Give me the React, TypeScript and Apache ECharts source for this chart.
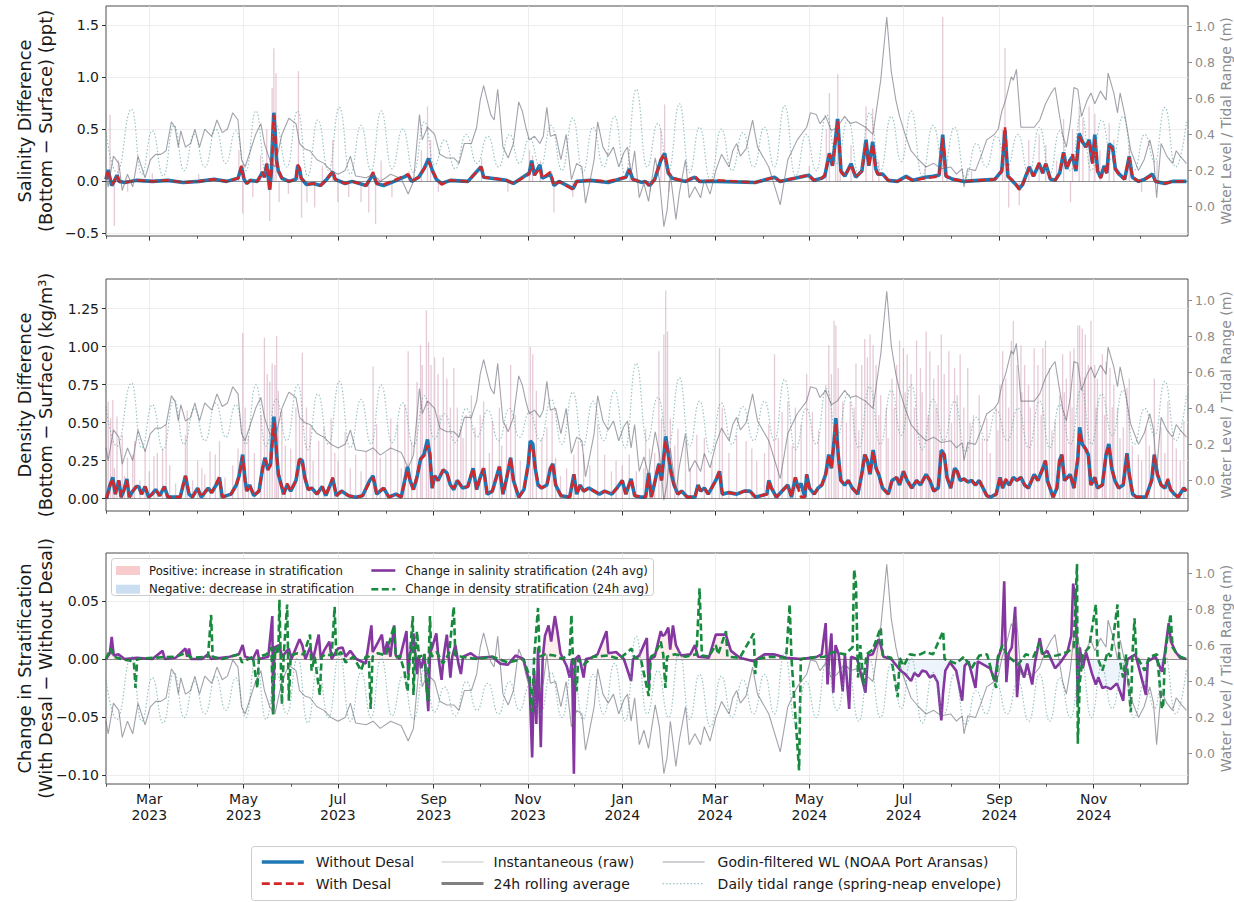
import React, { useEffect, useRef } from 'react';
import * as echarts from 'echarts';

// ---------- time reference (day offsets from 2023-02-01) ----------
const DAY = 86400000;
const T0 = Date.UTC(2023, 1, 1);
const T1 = Date.UTC(2025, 0, 1);
const MONTHS = ['Jan', 'Feb', 'Mar', 'Apr', 'May', 'Jun', 'Jul', 'Aug', 'Sep', 'Oct', 'Nov', 'Dec'];

// ---------- tick labels ----------
const P1_TICKS = [-0.5, 0, 0.5, 1.0, 1.5];
const P2_TICKS = [0, 0.25, 0.5, 0.75, 1.0, 1.25];
const P3_TICKS = [-0.1, -0.05, 0, 0.05];
const R_TICKS = [0, 0.2, 0.4, 0.6, 0.8, 1.0];

// ---------- data: [day offset, value] ----------
const TIDAL_RANGE = [[0,0.41],[7,0.19],[16.6,0.54],[23,0.18],[30,0.42],[37,0.17],[44,0.45],[50.5,0.20],[57,0.40],[64,0.22],[71,0.43],[77.5,0.24],[84,0.42],[90.5,0.20],[97,0.53],[103.5,0.19],[110,0.45],[117,0.22],[124,0.53],[130.5,0.17],[137,0.48],[144,0.20],[151,0.55],[158,0.18],[165,0.45],[171.5,0.20],[178,0.53],[185,0.21],[192,0.43],[199,0.19],[206,0.47],[212.5,0.23],[219,0.37],[226,0.21],[233,0.40],[240,0.24],[247,0.39],[254,0.22],[261,0.40],[267.5,0.24],[274,0.38],[281,0.22],[288,0.45],[295,0.20],[302,0.49],[308.5,0.19],[315,0.44],[322,0.22],[329,0.50],[336,0.18],[343,0.65],[350,0.22],[357,0.46],[364,0.20],[371,0.57],[377.5,0.19],[384,0.44],[391,0.15],[398,0.43],[405,0.20],[412,0.41],[419,0.22],[426,0.44],[432.5,0.22],[439,0.56],[446,0.17],[453,0.40],[459.5,0.20],[466,0.51],[473,0.24],[480,0.48],[487,0.18],[494,0.52],[501,0.20],[508,0.50],[514.5,0.25],[521,0.53],[528,0.17],[535,0.45],[542,0.22],[549,0.44],[556,0.16],[563,0.35],[569.5,0.22],[576,0.39],[583,0.22],[590,0.40],[597,0.18],[604,0.44],[610.5,0.18],[617,0.42],[624,0.20],[631,0.51],[637.5,0.20],[644,0.48],[651,0.25],[658,0.50],[665,0.20],[672,0.40],[678.5,0.25],[685,0.55],[692,0.22],[699,0.47]];

const GODIN_WL = [[0,0.18],[1.4,0.11],[4.8,0.28],[8.3,0.24],[10.5,0.09],[13.9,0.18],[17.3,0.11],[20.7,0.28],[23,0.22],[25.3,0.16],[28.7,0.26],[32.1,0.29],[35.5,0.29],[38.9,0.31],[42.3,0.47],[44.6,0.44],[46.8,0.33],[48.4,0.42],[51.4,0.33],[54.8,0.35],[57.5,0.43],[60.5,0.33],[63.9,0.43],[68.4,0.39],[71.8,0.48],[75.2,0.41],[78.6,0.43],[82,0.52],[85.4,0.48],[87.7,0.26],[90,0.22],[93.4,0.31],[96.8,0.40],[100.2,0.46],[102.5,0.35],[105.9,0.26],[109.3,0.22],[113.8,0.40],[118.3,0.49],[122.9,0.46],[125.2,0.35],[128.6,0.32],[132,0.31],[136.5,0.26],[141,0.24],[145.6,0.20],[150.1,0.18],[154.7,0.20],[158.1,0.28],[161.5,0.17],[168.3,0.16],[172.8,0.18],[177.4,0.14],[184.2,0.18],[191,0.155],[195.5,0.07],[198.9,0.14],[202.8,0.51],[204.6,0.37],[208,0.44],[212.6,0.40],[216,0.29],[220.5,0.27],[225,0.27],[228.4,0.24],[231.8,0.35],[236.4,0.35],[239.8,0.44],[242.1,0.59],[244.3,0.67],[246.6,0.59],[248.9,0.51],[251.1,0.48],[253.4,0.65],[256.8,0.33],[260.2,0.27],[263.6,0.35],[267,0.58],[269.3,0.53],[271.6,0.44],[273.8,0.37],[277.2,0.39],[280.7,0.35],[282.9,0.39],[285.2,0.55],[287.5,0.39],[290.9,0.40],[294.3,0.26],[297.7,0.40],[301.1,0.15],[304.5,0.24],[307.9,0.22],[310.2,0.02],[312.4,0.11],[315.8,0.26],[318.1,0.47],[321.5,0.33],[324.9,0.28],[328.3,0.33],[331.7,0.22],[335.1,0.30],[337.4,0.33],[339.7,0.18],[342,0.31],[345,0.05],[348,0.13],[351,0.03],[355.3,0.27],[358,0.15],[360.9,-0.11],[363,-0.02],[365.1,0.18],[367,0.05],[368.7,-0.07],[371,0.08],[374.9,0.26],[377.3,0.05],[381,0.11],[384.7,0.05],[387.1,0.15],[390.8,0.07],[394.5,0.20],[398.2,0.29],[403.1,0.22],[405.5,0.31],[408,0.35],[410.4,0.28],[414.1,0.32],[418.3,0.48],[421.5,0.33],[428.8,0.22],[436.2,0.01],[441.1,0.26],[447.2,0.37],[453.3,0.44],[455.8,0.52],[459.5,0.51],[461.9,0.46],[465.6,0.50],[469.3,0.42],[473,0.44],[477.9,0.50],[481.5,0.46],[485.2,0.47],[491.3,0.44],[496.2,0.40],[501.2,0.70],[505.1,1.05],[508,0.75],[511,0.59],[513.4,0.50],[517,0.40],[520.8,0.31],[525.7,0.26],[530.6,0.22],[535.5,0.24],[540.4,0.21],[546.5,0.22],[550.2,0.18],[553.9,0.21],[555.1,0.11],[557.5,0.21],[562.5,0.20],[566.1,0.28],[569.8,0.37],[574.7,0.40],[577.2,0.43],[579.6,0.53],[582,0.59],[585.7,0.72],[587,0.70],[589,0.76],[591.9,0.44],[596.8,0.44],[600.5,0.44],[604.1,0.48],[607.8,0.57],[611.5,0.63],[614,0.66],[616.4,0.53],[618.9,0.40],[621.3,0.33],[623.8,0.46],[626.2,0.66],[628.7,0.65],[631.1,0.50],[634.8,0.59],[637.2,0.63],[639.7,0.57],[643.4,0.64],[647,0.59],[648.3,0.74],[652,0.63],[654.4,0.52],[656.1,0.63],[659.3,0.50],[663,0.31],[668,0.20],[671.6,0.26],[675.3,0.37],[677.7,0.28],[679.7,0.05],[682.6,0.35],[686.3,0.28],[690,0.24],[692.4,0.31],[694.9,0.28],[699,0.24]];

const SAL_WITHOUT = [[0,0.02],[1.4,0.11],[2.6,0.03],[3.7,-0.04],[5.3,0],[7.1,0.06],[8.5,0],[12,-0.01],[20,0.01],[30,0],[40,0.01],[50,-0.01],[60,0],[70,0.02],[78,0],[85.4,0.03],[87.7,0.14],[89.3,0.02],[91.1,-0.02],[93.4,0.01],[97.9,0],[101.3,0.09],[102.5,0.04],[104,0.17],[105.2,0.03],[105.9,-0.08],[107,0.1],[107.9,0.45],[108.6,0.66],[109.5,0.45],[110.4,0.2],[111.5,0.1],[113.8,0.03],[118.3,0],[122.9,0.02],[124,0.15],[125.2,0.12],[126.3,0.03],[129.7,-0.03],[134.2,-0.02],[138.8,-0.04],[142.2,0.01],[146.7,0.09],[148.3,0.02],[154.7,-0.02],[159.2,0],[168.3,-0.04],[172.8,0.07],[175.1,-0.02],[179.6,-0.04],[186.4,0],[195.5,0.06],[197.8,0],[202.3,0.04],[205.7,0.12],[208.7,0.22],[211,0.11],[213.7,0.02],[217.1,-0.02],[222.8,0.01],[234.1,0],[242.7,0.14],[244.3,0.04],[254.5,0.02],[259.1,0.01],[263.6,-0.02],[273.8,0.08],[275.4,0.2],[277.2,0.06],[280.7,0.16],[282.2,0.03],[287.5,0.07],[289.8,-0.04],[293.1,0],[302.2,-0.07],[304.5,0],[313.6,0.01],[324.9,-0.01],[336.3,0.04],[338.5,0.12],[340.8,0.02],[346.5,-0.01],[349,0],[351.6,-0.04],[355,0.02],[358.9,0.2],[361.4,0.27],[363.8,0.08],[366.3,0.03],[375,0],[381,0.04],[384,0],[395,0],[420,-0.01],[432.5,0.04],[436,0],[454.6,0.06],[458,0.01],[463,0.03],[465,0.05],[468,0.27],[470,0.15],[473.4,0.6],[475.5,0.1],[478,0.05],[482,0.17],[485,0.04],[489,0.1],[491.7,0.40],[493.5,0.15],[496,0.38],[498,0.12],[499.3,0.07],[502.5,0.07],[506,0.01],[512,0],[517.6,0.05],[522,0.01],[530,0.04],[535,0.05],[539,0.06],[541.3,0.45],[543.4,0.05],[548,0.02],[555,0],[565,0.01],[575,0.02],[579.5,0.1],[581.6,0.49],[583.5,0.05],[588,-0.02],[590.8,-0.07],[593,-0.03],[597.3,0.14],[600,0.05],[603.7,0.17],[606,0.08],[608,0.17],[611,0.02],[614,0.01],[617,0.08],[619.5,0.28],[621.5,0.12],[623.5,0.2],[625.3,0.24],[627.5,0.1],[629.6,0.46],[631.8,0.38],[633.9,0.33],[636.1,0.40],[638.2,0.18],[639.7,0.45],[641.5,0.1],[643.5,0.04],[645.8,0.15],[647.5,0.08],[649,0.36],[651.2,0.33],[653,0.12],[655.5,0.07],[659,0.02],[662,0.24],[664,0.04],[668,0],[672,0.02],[677,0.07],[679,0],[685,-0.02],[690,0],[699,0]];

const SAL_WITH = [[0,0.02],[1.4,0.11],[2.6,0.03],[3.7,-0.03],[5.3,0],[7.1,0.06],[8.5,0],[12,-0.01],[20,0.01],[30,0],[40,0.01],[50,-0.01],[60,0],[70,0.02],[78,0],[85.4,0.03],[87.7,0.15],[89.3,0.02],[91.1,-0.02],[93.4,0.01],[97.9,0],[101.3,0.09],[102.5,0.04],[104,0.17],[105.2,0.03],[105.9,-0.09],[107,0.1],[107.9,0.47],[108.6,0.64],[109.5,0.45],[110.4,0.2],[111.5,0.11],[113.8,0.03],[118.3,0],[122.9,0.02],[124,0.16],[125.2,0.13],[126.3,0.03],[129.7,-0.03],[134.2,-0.02],[138.8,-0.04],[142.2,0.01],[146.7,0.1],[148.3,0.02],[154.7,-0.02],[159.2,0],[168.3,-0.04],[172.8,0.09],[175.1,-0.02],[179.6,-0.03],[186.4,0.01],[195.5,0.07],[197.8,0],[202.3,0.04],[205.7,0.12],[208.7,0.19],[211,0.11],[213.7,0.03],[217.1,-0.03],[222.8,0.01],[234.1,0],[242.7,0.14],[244.3,0.04],[254.5,0.02],[259.1,0.01],[263.6,-0.02],[273.8,0.07],[275.4,0.17],[277.2,0.06],[280.7,0.13],[282.2,0.03],[287.5,0.09],[289.8,-0.04],[293.1,0],[302.2,-0.08],[304.5,0],[313.6,0.01],[324.9,0],[336.3,0.04],[338.5,0.11],[340.8,0.02],[346.5,-0.01],[349,0],[351.6,-0.05],[355,0.02],[358.9,0.21],[361.4,0.26],[363.8,0.09],[366.3,0.03],[375,0],[381,0.05],[384,0],[395,0.01],[420,-0.01],[432.5,0.04],[436,0],[454.6,0.06],[458,0.01],[463,0.03],[465,0.06],[468,0.26],[470,0.15],[473.4,0.58],[475.5,0.09],[478,0.05],[482,0.16],[485,0.04],[489,0.1],[491.7,0.37],[493.5,0.15],[496,0.36],[498,0.12],[499.3,0.07],[502.5,0.07],[506,0.01],[512,0],[517.6,0.04],[522,0.01],[530,0.03],[535,0.04],[539,0.05],[541.3,0.42],[543.4,0.05],[548,0.02],[555,0],[565,0.01],[575,0.02],[579.5,0.1],[581.6,0.52],[583.5,0.05],[588,-0.01],[590.8,-0.08],[593,-0.03],[597.3,0.13],[600,0.05],[603.7,0.18],[606,0.08],[608,0.17],[611,0.02],[614,0.01],[617,0.08],[619.5,0.27],[621.5,0.12],[623.5,0.2],[625.3,0.26],[627.5,0.12],[629.6,0.43],[631.8,0.37],[633.9,0.33],[636.1,0.39],[638.2,0.17],[639.7,0.42],[641.5,0.09],[643.5,0.03],[645.8,0.13],[647.5,0.07],[649,0.34],[651.2,0.31],[653,0.12],[655.5,0.06],[659,0.02],[662,0.23],[664,0.04],[668,0],[672,0.02],[677,0.06],[679,0],[685,-0.02],[690,0],[699,0]];

const SAL_RAW = [[2.6,0.64],[5.4,-0.43],[8,0.2],[14,-0.1],[30,0.08],[60,0.07],[86,0.3],[88.4,-0.31],[95,-0.15],[100,0.25],[104,0.5],[105.9,-0.38],[107.5,0.9],[108.6,1.28],[110,1.04],[112,-0.2],[118,-0.12],[124.5,1.06],[126.5,-0.35],[130,-0.2],[135,-0.25],[140,0.15],[146.7,0.4],[150,-0.2],[157,-0.15],[165,-0.2],[170,-0.3],[174.4,-0.41],[178,0.2],[185,-0.15],[196,0.1],[204,0.3],[208,0.72],[210,0.4],[215,-0.1],[243,0.22],[260,-0.1],[274,0.3],[276,0.25],[281,0.2],[289.8,-0.3],[302,-0.15],[339,0.18],[352,-0.1],[359,0.5],[361.4,0.74],[364,-0.1],[455,0.15],[466,0.5],[468,0.85],[472,0.6],[473.4,1.03],[475,0.3],[482,0.35],[491.7,0.72],[496,0.7],[500,0.2],[530,0.15],[541.3,1.58],[544,0.2],[560,0.1],[580,0.5],[581.6,1.28],[584,-0.25],[590.8,-0.23],[597,0.4],[603.7,0.45],[608,0.35],[615,0.2],[619.5,0.6],[624,-0.2],[625.3,0.5],[629.6,0.72],[632,0.6],[636,0.72],[639.7,0.65],[643,0.3],[649,0.56],[652,0.4],[662,0.35],[670,-0.1],[680,0.2]];

const DENS_WITHOUT = [[0.3,0],[2.6,0.09],[4.4,0.14],[6,0.03],[8.3,0.12],[9.8,0.01],[11.7,0.06],[13.5,0.13],[15.1,0.01],[17.3,0.05],[19.6,0.08],[21.2,0.08],[23,0.03],[25.3,0.08],[27.5,0.01],[29.8,0.03],[32.1,0.06],[34.8,0.02],[37.8,0.08],[40,0.01],[43.4,0.01],[48,0.01],[51.4,0.15],[53.7,0.03],[55.9,0.01],[59.3,0.07],[61.6,0.01],[66.1,0.07],[68.4,0.04],[71.8,0.10],[73.4,0.14],[75.2,0.01],[80.9,0.03],[84.3,0.09],[86.1,0.15],[88.4,0.29],[90,0.12],[91.1,0.05],[92.9,0.09],[95.6,0.02],[99,0.05],[101.3,0.20],[102.9,0.27],[104.7,0.19],[106.5,0.23],[107.5,0.38],[108.6,0.54],[109.3,0.47],[110.4,0.29],[111.5,0.16],[113.4,0.09],[114.9,0.03],[117.2,0.09],[119.5,0.05],[122.9,0.12],[125.2,0.26],[127,0.25],[128.6,0.14],[130.8,0.06],[133.1,0.07],[136.5,0.03],[139.9,0.08],[142.2,0.02],[146.7,0.13],[149,0.02],[152.4,0.05],[156.9,0.02],[161.5,0.01],[166,0.02],[170.6,0.12],[172.8,0.15],[175.1,0.03],[179.6,0.07],[183,0.01],[187.6,0.03],[191,0.01],[195.1,0.21],[196.7,0.12],[198.9,0.06],[201.2,0.14],[203.5,0.26],[205.7,0.29],[208,0.39],[209.6,0.28],[211,0.07],[212.6,0.15],[214.8,0.12],[218.2,0.19],[220.5,0.17],[222.8,0.09],[225,0.06],[227.3,0.12],[230.7,0.07],[234.1,0.08],[237.5,0.20],[239.8,0.06],[242.1,0.14],[244.3,0.20],[246.6,0.03],[250,0.05],[254.5,0.21],[256.8,0.03],[259.1,0.13],[261.8,0.27],[263.6,0.12],[267,0.01],[270.4,0.06],[273.2,0.23],[274.5,0.38],[276.1,0.36],[277.7,0.20],[279.5,0.09],[281.8,0.07],[285.2,0.09],[287.5,0.20],[289.1,0.23],[290.9,0.09],[294.3,0.02],[300,0.01],[302.7,0.16],[304.5,0.03],[306.8,0.09],[309,0.05],[312.4,0.07],[315.8,0.05],[319.2,0.03],[322.6,0.05],[327.2,0.03],[330.6,0.07],[334,0.12],[336.3,0.03],[339.7,0.13],[342,0.02],[346.5,0.01],[349.1,0.01],[351.1,0.17],[352.8,0.01],[355.3,0.12],[357.7,0.23],[359.4,0.12],[360.9,0.28],[362.1,0.41],[363.8,0.29],[365.8,0.16],[367.5,0.09],[370,0.03],[372.4,0.05],[376.1,0.01],[381,0.01],[383,0.09],[384.7,0.05],[387.1,0.07],[389.6,0.03],[394.5,0.12],[396.9,0.18],[398.7,0.03],[403.1,0.04],[408,0.03],[412.9,0.05],[416.6,0.05],[420.2,0.01],[427.6,0.03],[428.8,0.12],[430.5,0.07],[433.7,0.01],[437.4,0.05],[441.1,0.09],[443.5,0.01],[446,0.14],[447.7,0.07],[449.7,0.10],[452.1,0.01],[453.3,0.16],[455.1,0.07],[458.2,0.03],[460.7,0.07],[463.1,0.09],[465.6,0.16],[467.6,0.29],[469.3,0.20],[471,0.38],[472.2,0.53],[473.7,0.29],[475.4,0.12],[477.9,0.09],[480.3,0.12],[482.8,0.07],[486.4,0.03],[488.9,0.16],[490.9,0.29],[492.6,0.25],[494.3,0.16],[496.3,0.32],[498.2,0.20],[499.9,0.16],[502.4,0.07],[506.1,0.03],[508.5,0.12],[511.5,0.14],[513.4,0.09],[515.9,0.18],[518.3,0.12],[521.3,0.07],[524.4,0.12],[526.9,0.09],[530.6,0.16],[533,0.12],[535.5,0.05],[538.4,0.07],[540.4,0.32],[542.3,0.29],[544.1,0.14],[546.5,0.07],[549,0.20],[550.7,0.18],[552.6,0.12],[555.1,0.13],[557.5,0.11],[560,0.12],[562.5,0.09],[564.9,0.12],[567.4,0.07],[569.8,0.02],[572.3,0.01],[575.9,0.03],[578.4,0.14],[580.1,0.07],[582.1,0.12],[584.5,0.09],[587,0.14],[589.4,0.12],[591.9,0.14],[594.3,0.09],[596.8,0.07],[600.5,0.16],[602.9,0.12],[606.1,0.20],[607.8,0.25],[609,0.12],[612.7,0.01],[615.2,0.07],[616.9,0.25],[618.4,0.29],[620.1,0.12],[623.8,0.16],[626.2,0.07],[628.7,0.26],[629.9,0.47],[631.6,0.36],[633.6,0.33],[635.5,0.29],[637.2,0.09],[639.7,0.14],[641.4,0.07],[644.6,0.09],[647,0.29],[648.8,0.36],[650.7,0.20],[652.7,0.12],[655.1,0.07],[658.1,0.09],[660.5,0.30],[662,0.16],[664.2,0.03],[666.7,0.01],[672.8,0.01],[676.5,0.12],[678.2,0.29],[680.2,0.16],[682.6,0.09],[685.1,0.07],[687,0.12],[688.7,0.06],[691.2,0.03],[693.6,0.01],[697.3,0.07],[699,0.05]];

const DENS_WITH = [[0.3,0],[2.6,0.09],[4.4,0.13],[6,0.03],[8.3,0.12],[9.8,0.01],[11.7,0.06],[13.5,0.12],[15.1,0.01],[17.3,0.05],[19.6,0.08],[21.2,0.08],[23,0.03],[25.3,0.08],[27.5,0.01],[29.8,0.03],[32.1,0.06],[34.8,0.02],[37.8,0.08],[40,0.01],[43.4,0.01],[48,0.01],[51.4,0.15],[53.7,0.03],[55.9,0.01],[59.3,0.07],[61.6,0.01],[66.1,0.07],[68.4,0.04],[71.8,0.11],[73.4,0.14],[75.2,0.01],[80.9,0.03],[84.3,0.09],[86.1,0.15],[88.4,0.28],[90,0.12],[91.1,0.05],[92.9,0.09],[95.6,0.02],[99,0.05],[101.3,0.20],[102.9,0.26],[104.7,0.19],[106.5,0.22],[107.5,0.36],[108.6,0.50],[109.3,0.45],[110.4,0.29],[111.5,0.17],[113.4,0.09],[114.9,0.03],[117.2,0.1],[119.5,0.05],[122.9,0.12],[125.2,0.26],[127,0.25],[128.6,0.14],[130.8,0.06],[133.1,0.07],[136.5,0.03],[139.9,0.08],[142.2,0.02],[146.7,0.14],[149,0.02],[152.4,0.05],[156.9,0.02],[161.5,0.01],[166,0.02],[170.6,0.11],[172.8,0.14],[175.1,0.03],[179.6,0.07],[183,0.01],[187.6,0.03],[191,0.01],[195.1,0.19],[196.7,0.12],[198.9,0.06],[201.2,0.15],[203.5,0.26],[205.7,0.28],[208,0.35],[209.6,0.30],[211,0.07],[212.6,0.15],[214.8,0.12],[218.2,0.19],[220.5,0.17],[222.8,0.09],[225,0.07],[227.3,0.12],[230.7,0.07],[234.1,0.08],[237.5,0.20],[239.8,0.06],[242.1,0.14],[244.3,0.20],[246.6,0.03],[250,0.05],[254.5,0.21],[256.8,0.03],[259.1,0.13],[261.8,0.27],[263.6,0.12],[267,0.01],[270.4,0.06],[273.2,0.22],[274.5,0.35],[276.1,0.34],[277.7,0.20],[279.5,0.10],[281.8,0.07],[285.2,0.09],[287.5,0.20],[289.1,0.23],[290.9,0.09],[294.3,0.02],[300,0.01],[302.7,0.16],[304.5,0.03],[306.8,0.09],[309,0.05],[312.4,0.07],[315.8,0.05],[319.2,0.03],[322.6,0.05],[327.2,0.03],[330.6,0.07],[334,0.12],[336.3,0.03],[339.7,0.13],[342,0.02],[346.5,0.01],[349.1,0.01],[351.1,0.16],[352.8,0.01],[355.3,0.12],[357.7,0.23],[359.4,0.12],[360.9,0.28],[362.1,0.38],[363.8,0.29],[365.8,0.16],[367.5,0.09],[370,0.03],[372.4,0.05],[376.1,0.01],[381,0.01],[383,0.09],[384.7,0.05],[387.1,0.07],[389.6,0.03],[394.5,0.12],[396.9,0.18],[398.7,0.03],[403.1,0.04],[408,0.03],[412.9,0.05],[416.6,0.05],[420.2,0.01],[427.6,0.03],[428.8,0.12],[430.5,0.07],[433.7,0.01],[437.4,0.05],[441.1,0.09],[443.5,0.01],[446,0.14],[447.7,0.07],[449.7,0.01],[452.1,0.01],[453.3,0.16],[455.1,0.07],[458.2,0.03],[460.7,0.07],[463.1,0.09],[465.6,0.16],[467.6,0.29],[469.3,0.20],[471,0.37],[472.2,0.49],[473.7,0.29],[475.4,0.12],[477.9,0.09],[480.3,0.12],[482.8,0.07],[486.4,0.03],[488.9,0.16],[490.9,0.29],[492.6,0.25],[494.3,0.16],[496.3,0.31],[498.2,0.20],[499.9,0.16],[502.4,0.07],[506.1,0.03],[508.5,0.12],[511.5,0.14],[513.4,0.09],[515.9,0.18],[518.3,0.12],[521.3,0.07],[524.4,0.12],[526.9,0.09],[530.6,0.16],[533,0.12],[535.5,0.05],[538.4,0.07],[540.4,0.31],[542.3,0.29],[544.1,0.14],[546.5,0.07],[549,0.20],[550.7,0.18],[552.6,0.12],[555.1,0.13],[557.5,0.11],[560,0.12],[562.5,0.09],[564.9,0.12],[567.4,0.07],[569.8,0.02],[572.3,0.01],[575.9,0.03],[578.4,0.14],[580.1,0.07],[582.1,0.13],[584.5,0.09],[587,0.14],[589.4,0.12],[591.9,0.14],[594.3,0.09],[596.8,0.07],[600.5,0.16],[602.9,0.12],[606.1,0.20],[607.8,0.25],[609,0.12],[612.7,0.01],[615.2,0.07],[616.9,0.25],[618.4,0.29],[620.1,0.12],[623.8,0.16],[626.2,0.07],[628.7,0.27],[629.9,0.44],[631.6,0.36],[633.6,0.33],[635.5,0.29],[637.2,0.09],[639.7,0.14],[641.4,0.07],[644.6,0.09],[647,0.29],[648.8,0.35],[650.7,0.20],[652.7,0.12],[655.1,0.07],[658.1,0.09],[660.5,0.29],[662,0.16],[664.2,0.03],[666.7,0.01],[672.8,0.01],[676.5,0.12],[678.2,0.29],[680.2,0.16],[682.6,0.09],[685.1,0.07],[687,0.13],[688.7,0.06],[691.2,0.03],[693.6,0.01],[697.3,0.07],[699,0.05]];

const DENS_RAW = [[1.4,0.64],[3,0.53],[4.4,0.65],[5.5,0.2],[7.1,0.54],[10.5,0.42],[12,0.15],[13.9,0.27],[17.3,0.29],[18.5,0.38],[22,0.12],[25.3,0.33],[28,0.18],[31,0.28],[33.2,0.30],[36.6,0.33],[38.9,0.49],[41.2,0.22],[45,0.1],[51.4,0.42],[52.5,0.58],[56,0.12],[59.3,0.25],[62,0.2],[63.9,0.16],[67.3,0.31],[70.7,0.29],[73.4,0.38],[77,0.14],[82,0.22],[85.4,0.33],[88.4,1.09],[90,0.60],[92.2,0.41],[96,0.3],[100.2,0.55],[102.5,1.06],[104.3,0.82],[105.9,0.77],[107.5,0.89],[109.3,0.88],[110.4,1.07],[111.5,0.71],[113.8,0.58],[116,0.35],[119.5,0.33],[122.9,0.60],[125.2,0.53],[127,0.96],[129.7,0.60],[132,0.47],[134,0.25],[137.6,0.38],[141,0.47],[145.6,0.53],[148,0.3],[150.1,0.25],[154.7,0.44],[158,0.2],[161.5,0.29],[165,0.18],[168.3,0.31],[172.8,0.87],[175.1,0.49],[177.4,0.27],[181,0.3],[184.2,0.53],[188.7,0.49],[191,0.2],[193.3,0.62],[195.5,0.97],[197.8,0.38],[201.2,0.77],[203.5,1.01],[204.6,0.88],[207.3,1.24],[208.7,1.03],[210.3,0.88],[212.6,0.93],[214.8,0.82],[216,0.55],[218.2,0.93],[220.5,0.79],[222.8,0.60],[225,0.86],[227.3,0.60],[229.6,0.47],[231,0.4],[233,0.55],[236.4,0.68],[238.7,0.47],[242.1,0.55],[244.3,0.64],[248,0.3],[250,0.51],[254.5,0.60],[256,0.35],[259.1,0.49],[261.8,0.88],[264.8,0.55],[268,0.25],[274.5,1.0],[276.1,0.95],[278.4,0.71],[282,0.4],[285.2,0.47],[288.6,0.58],[290.9,0.27],[294,0.15],[298,0.2],[302.7,0.29],[305.6,0.38],[309,0.29],[313,0.22],[318.1,0.49],[322.6,0.29],[327,0.18],[330,0.25],[334,0.22],[338.5,0.29],[343.1,0.18],[348,0.2],[349.1,0.46],[351.6,0.33],[355,0.3],[357.7,0.97],[359.4,0.53],[360.9,1.08],[362.1,1.37],[363.3,1.10],[365.1,0.53],[368,0.35],[370,0.46],[374.9,0.38],[378,0.2],[382.2,0.42],[387.1,0.40],[392,0.25],[396.9,0.99],[398.7,0.60],[403,0.3],[408,0.42],[414.1,0.38],[417.8,0.33],[421,0.25],[426,0.3],[428.8,0.49],[432.5,0.95],[435,0.4],[437.4,0.57],[441.1,0.64],[444,0.35],[446,0.60],[449.7,0.49],[453.3,0.82],[457,0.57],[461,0.45],[465.6,0.75],[467.6,1.01],[469.3,0.82],[471,1.17],[472.2,1.14],[473.7,0.86],[476.6,0.64],[479,0.5],[481.5,0.64],[484,0.6],[485.2,0.89],[487,0.45],[488.9,0.88],[490.9,1.05],[492.6,0.93],[494.3,1.08],[496.3,1.01],[498.2,0.88],[500,0.55],[501.2,0.68],[504.8,0.60],[506,0.4],[508.5,0.79],[510,0.6],[511.5,0.88],[513.4,1.04],[515.9,0.99],[517,0.7],[518.3,0.95],[520.8,0.82],[523,0.6],[524.4,1.04],[526.9,0.86],[528,0.7],[530.6,1.10],[532,0.55],[533,0.97],[535.5,0.79],[537,0.6],[538.4,0.88],[540.4,1.08],[542.3,0.82],[545.3,0.97],[547,0.5],[549,0.86],[550.7,0.68],[552.6,0.95],[555,0.6],[557.5,0.86],[559,0.5],[561.2,0.55],[564.9,0.68],[567,0.4],[569.8,0.53],[572,0.3],[575.9,0.60],[577,0.45],[578.4,0.75],[580.1,0.97],[582.1,0.79],[584,0.6],[585.7,1.04],[587,1.17],[589.4,0.88],[591.9,1.01],[592.5,0.7],[594.3,0.88],[596.8,0.75],[598,0.6],[600.5,0.99],[602.9,0.88],[605,0.55],[606.1,0.99],[607.8,1.04],[610.3,0.86],[612,0.45],[614,0.51],[616.9,0.68],[618.9,0.95],[620,0.7],[621.3,0.79],[623.8,0.97],[625,0.6],[626.2,0.99],[628.7,1.14],[629.9,1.14],[631.6,1.12],[633,0.8],[633.6,1.08],[635.5,0.88],[637.2,1.17],[639.7,0.88],[640.5,0.6],[641.4,0.79],[644.6,0.95],[646,0.55],[647,0.90],[649.5,0.86],[651,0.6],[652,0.75],[654.4,0.60],[656,0.4],[658.1,0.47],[660.5,0.73],[662,0.79],[664,0.35],[667.9,0.29],[670,0.25],[672.8,0.47],[675,0.35],[678.2,0.79],[682.6,0.47],[685,0.3],[687,0.64],[690,0.4],[692.4,0.33],[695,0.25],[697.3,0.51]];

const SAL_CHANGE = [[0,0],[2.5,0.005],[3.7,0.019],[5,0.003],[8,0.004],[12,0],[20,0.001],[30,0],[36.6,0.007],[38,0],[45,0.001],[51.4,0.009],[52.5,0.002],[53.7,0.009],[55,0],[62,0],[66,0.004],[68,0],[80,0.002],[86,0.004],[88.4,0.012],[90,0.002],[95,0],[97.9,0.008],[99,0],[105,0.002],[107.6,0.037],[108.1,-0.046],[109,0.01],[112,0.012],[114,0.002],[118.3,0.009],[120,0],[125.2,0.017],[127,0.012],[129,0],[132,0.01],[134,0],[137.6,0.021],[139,0],[141,0.007],[144.5,0.015],[146,0],[150,0.009],[153,0.01],[155,0.002],[158,0.007],[162,0],[168,-0.004],[171.7,0.029],[172.5,0.006],[176.2,0.015],[178.5,0.021],[180,0.004],[182,0.015],[184,0.002],[186.4,0.029],[187.5,0.003],[190,0],[194.4,0.024],[195.5,-0.013],[196.5,0.002],[198.9,0.022],[201.2,-0.013],[202,0.002],[204,-0.008],[206,0.004],[208.5,-0.045],[209.6,0.005],[211,0.01],[213.7,0.022],[215,0.002],[217.1,-0.018],[218.5,0.003],[220.5,0.021],[222.8,-0.016],[224,0.002],[226,0.012],[228,-0.004],[229.6,-0.013],[231,0.002],[236,0.005],[240,0.001],[250,0.002],[255,-0.004],[260,-0.005],[265,0.003],[270,0],[274,-0.02],[275.7,-0.085],[277,-0.01],[278.4,-0.056],[279.5,0.01],[281.3,-0.076],[282.5,0],[284,0.02],[286.3,0.029],[288,0.015],[290.4,0.037],[292,0.024],[294,0.005],[298,-0.006],[300,-0.016],[301.5,0],[302.7,-0.099],[303.6,0],[306,0.003],[309,-0.016],[310.5,0],[314,0.001],[318,0.004],[323.8,0.024],[325,0.005],[330,0.006],[335,0],[339.7,-0.019],[341,0],[345,0.003],[349.9,0.018],[351.1,-0.025],[352,0],[355,0.002],[358.9,0.024],[360,0.02],[361.5,0.021],[363.8,0.027],[365,0.008],[366.8,0.029],[368.7,0.012],[372,0.003],[378,0.004],[381,0.012],[383,0.002],[390,0.001],[394.5,0.021],[397,0.021],[401,0.021],[404.3,0.007],[410,0.001],[419,-0.002],[426,0.004],[432,0.004],[440,0.001],[450,0],[460,0.002],[463,0.004],[465.6,0.031],[466.8,-0.022],[468,0.005],[469.3,0.022],[470.5,-0.029],[472,0.012],[474,0.004],[476.6,-0.028],[478,0.004],[480.8,-0.043],[482,0.002],[486,0],[491.3,-0.029],[493,0.003],[496,0.004],[499.9,0.017],[501.2,0.012],[503,0.002],[508,0],[514,-0.01],[517,-0.013],[520.8,-0.019],[523,-0.012],[525.7,-0.015],[528,-0.01],[530.6,-0.011],[533,-0.016],[535.5,-0.014],[538,-0.02],[540.4,-0.053],[541.5,-0.03],[543,-0.01],[546,-0.003],[550,-0.01],[553.9,-0.036],[555.5,-0.006],[558,-0.002],[562.5,-0.025],[564,-0.002],[568,-0.005],[572,-0.008],[575,-0.019],[577,0],[579.5,0.01],[581.1,0.067],[582.5,-0.02],[584,0.005],[586,0.01],[588.2,0.045],[589.4,-0.033],[591,-0.005],[594,-0.016],[596,-0.004],[599.2,-0.022],[601,-0.003],[604.1,0.018],[606,0.004],[609,0.007],[614,-0.008],[618,-0.002],[622,0.006],[624.5,0.02],[625.7,0.065],[627.4,0.049],[628.7,-0.039],[630,0.01],[632,-0.008],[634,0.006],[638,-0.013],[640.4,-0.022],[642,-0.016],[644.6,-0.025],[647,-0.024],[650,-0.026],[654,-0.021],[656,-0.028],[658.1,-0.036],[659.5,-0.01],[661,0],[666,0.004],[672.8,-0.031],[674,-0.002],[679,0.002],[683.1,-0.011],[685,0.005],[687.5,0.031],[689,0.015],[692,0.006],[695,0.001],[699,0]];

const DENS_CHANGE = [[0,0],[3,0.009],[5,0.002],[10,0],[18,-0.002],[19.1,-0.025],[20.2,0],[30,0.001],[45,0.002],[51.4,0.005],[55,0.001],[66,0.002],[68,0.038],[69,0.002],[75,0],[86,0.004],[88,-0.003],[95,0.002],[97.9,-0.025],[99,0.002],[104,0.004],[107,0.01],[108.1,-0.048],[109.5,0.01],[111.5,0.004],[112.2,0.051],[113,0.002],[113.8,-0.039],[115,0.004],[117.2,0.047],[118.3,-0.036],[119.5,0.003],[124,0.005],[128,0.004],[132,0.021],[133,-0.01],[135,0.002],[138.3,-0.031],[139.5,0.002],[142,0.004],[146,0.003],[147.9,0.045],[149,0.002],[152,0.006],[155,-0.003],[160,0.002],[165,-0.01],[168,0.002],[170,0.002],[171.2,-0.043],[172.5,0.002],[176,0.005],[181,0.003],[186.4,0.029],[187.5,0.001],[190,0.003],[193,-0.01],[195.1,-0.028],[196.5,0.002],[198.5,0.037],[198.9,-0.031],[200,0.003],[201.2,0.024],[202.5,0.001],[206,0.005],[208,-0.036],[209.6,0.037],[210.5,0.002],[214,0.006],[218,-0.004],[222,0.005],[225,0.045],[226,0.003],[230,0.002],[240,0],[250,0.002],[260,-0.003],[270,0],[274,-0.015],[275.7,-0.046],[277,0.002],[279.5,0.044],[280.5,0.002],[284,0.004],[290,0.003],[295,0],[300,0.004],[301.1,0.038],[302,0.002],[304.5,-0.028],[305.5,0],[309,-0.005],[315,0.002],[325,0.003],[332,0],[340,0.009],[342,0.001],[346,0],[351.1,-0.032],[352.5,0.002],[355,0.004],[358.9,0.015],[360.5,0.004],[361.9,-0.025],[363,0.002],[368,0.004],[375,0.002],[382,0.004],[384,0.061],[385.5,0.003],[390,0.002],[394.5,0.012],[396,0.004],[401.1,0.024],[402,0.002],[410,0.001],[419,0.022],[420,-0.013],[421,0],[430,0.002],[440,0.001],[442.3,0.047],[443.5,0],[448.4,-0.096],[449.5,0],[455,0.001],[465,0.002],[470,0.006],[478,0.004],[483,0.01],[484,0.077],[485.2,0.065],[486.5,-0.016],[488,0.012],[490,-0.022],[492,0.004],[496,0.008],[501.2,0.027],[502.5,0.003],[508,0.001],[512.2,-0.033],[513.5,0.001],[516,-0.006],[520,0.004],[525,0.003],[530,0.006],[535,0.004],[541.6,0.024],[542.5,0],[550,-0.004],[555,0.002],[560,-0.008],[565,0.003],[570,0.004],[575.9,-0.025],[577,0.002],[580,0.012],[583,0.003],[590,-0.005],[595,0.004],[600,0.002],[604.1,0.014],[606,0.002],[615,0.003],[622,0.006],[626,0.01],[628.2,0.082],[628.7,-0.073],[630,-0.02],[632,0.004],[636,0.01],[640.4,0.047],[641.5,0.001],[644.6,-0.01],[648,0.006],[650,0.002],[654.4,0.047],[655.5,0.002],[658,-0.016],[660,0.004],[663,-0.046],[664,0.002],[665.4,0.035],[666.5,0.003],[672,-0.01],[675,0.002],[680,0.004],[683.1,-0.043],[684,-0.039],[685,0.002],[688.7,0.039],[690,0.01],[692,0.006],[695,0.002],[699,0]];

// ---------- styling constants ----------
const FONT = 'DejaVu Sans';
const TXT = '#1a1a1a';
const GREY_AX = '#8c8c8c';
const BLUE = '#1f77b4';
const RED = '#d62728';
const PURPLE = '#8536a0';
const GREEN = '#178a3e';
const WL_COLOR = 'rgba(105,105,120,0.62)';
const TIDE_COLOR = 'rgba(95,158,160,0.62)';
const RAW_COLOR = 'rgba(175,95,135,0.33)';

const N_WITHOUT = 'Without Desal';
const N_WITH = 'With Desal';
const N_RAW = 'Instantaneous (raw)';
const N_AVG = '24h rolling average';
const N_WL = 'Godin-filtered WL (NOAA Port Aransas)';
const N_TIDE = 'Daily tidal range (spring-neap envelope)';
const N_POS = 'Positive: increase in stratification';
const N_NEG = 'Negative: decrease in stratification';
const N_DSAL = 'Change in salinity stratification (24h avg)';
const N_DDEN = 'Change in density stratification (24h avg)';

const ts = (pts: number[][]) => pts.map(([d, v]) => [T0 + d * DAY, v]);

const MAJOR_TICKS: number[] = [];
const MINOR_TICKS: number[] = [];
for (let k = 0; k < 23; k++) {
  const t = Date.UTC(2023, 1 + k, 1);
  if ((1 + k) % 2 === 0) MAJOR_TICKS.push(t); else MINOR_TICKS.push(t);
}

function buildOption() {
  const grids = [
    { left: 106, top: 6, width: 1082, height: 230 },
    { left: 106, top: 279, width: 1082, height: 232 },
    { left: 106, top: 553, width: 1082, height: 231 },
  ].map((g) => ({ ...g, show: true, borderColor: '#4d4d4d', borderWidth: 1, backgroundColor: 'transparent', containLabel: false, outerBoundsMode: 'none' }));

  const xMajor = [0, 1, 2].map((i) => ({
    type: 'value', gridIndex: i, min: T0, max: T1, position: 'bottom',
    axisLine: { show: false, onZero: false },
    axisTick: { show: true, length: 4.5, customValues: MAJOR_TICKS, lineStyle: { color: '#333', width: 1 } },
    axisLabel: {
      show: i === 2, customValues: MAJOR_TICKS, margin: 7, fontSize: 14, lineHeight: 16, color: TXT, fontFamily: FONT,
      formatter: (v: number) => { const d = new Date(v); return MONTHS[d.getUTCMonth()] + '\n' + d.getUTCFullYear(); },
    },
    splitLine: { show: true, lineStyle: { color: '#e8e8e8', width: 0.8 } },
  }));
  const xMinor = [0, 1, 2].map((i) => ({
    type: 'value', gridIndex: i, min: T0, max: T1, position: 'bottom',
    axisLine: { show: false, onZero: false },
    axisTick: { show: true, length: 2.8, customValues: MINOR_TICKS, lineStyle: { color: '#333', width: 0.8 } },
    axisLabel: { show: false },
    splitLine: { show: false },
  }));

  const leftAxis = (grid: number, min: number, max: number, ticks: number[], digits: number, name: string) => ({
    type: 'value', gridIndex: grid, position: 'left', min, max,
    name, nameLocation: 'middle', nameGap: 50, nameRotate: 90, nameMoveOverlap: false,
    nameTextStyle: { fontSize: 17.8, lineHeight: 20.7, color: TXT, fontFamily: FONT },
    axisLine: { show: false },
    axisTick: { show: true, length: 4, customValues: ticks, lineStyle: { color: '#333' } },
    axisLabel: {
      customValues: ticks, margin: 7, fontSize: 14, color: TXT, fontFamily: FONT,
      formatter: (v: number) => v.toFixed(digits).replace('-', '\u2212'),
    },
    splitLine: { show: true, lineStyle: { color: '#e8e8e8', width: 0.8 } },
  });
  const rightAxis = (grid: number, min: number, max: number) => ({
    type: 'value', gridIndex: grid, position: 'right', min, max,
    name: 'Water Level / Tidal Range (m)', nameLocation: 'middle', nameGap: 31, nameRotate: 90, nameMoveOverlap: false,
    nameTextStyle: { fontSize: 14, color: GREY_AX, fontFamily: FONT },
    axisLine: { show: false },
    axisTick: { show: true, length: 4, customValues: R_TICKS, lineStyle: { color: GREY_AX } },
    axisLabel: { customValues: R_TICKS, margin: 7, fontSize: 12.5, color: GREY_AX, fontFamily: FONT, formatter: (v: number) => v.toFixed(1) },
    splitLine: { show: false },
  });

  const yAxes = [
    leftAxis(0, -0.525, 1.686, P1_TICKS, 1, 'Salinity Difference\n(Bottom \u2212 Surface) (ppt)'),
    rightAxis(0, -0.162, 1.111),
    leftAxis(1, -0.081, 1.4455, P2_TICKS, 2, 'Density Difference\n(Bottom \u2212 Surface) (kg/m\u00b3)'),
    rightAxis(1, -0.17, 1.118),
    leftAxis(2, -0.1078, 0.0914, P3_TICKS, 2, 'Change in Stratification\n(With Desal \u2212 Without Desal)'),
    rightAxis(2, -0.168, 1.112),
  ];

  const line = (name: string, xi: number, yi: number, data: number[][], color: string, width: number, type: any, z: number, extra: any = {}) => ({
    type: 'line', name, xAxisIndex: xi, yAxisIndex: yi, data: ts(data), symbol: 'none', showSymbol: false,
    lineStyle: { color, width, type }, itemStyle: { color }, z, silent: true, animation: false, ...extra,
  });
  const zeroLine = { markLine: { silent: true, symbol: 'none', label: { show: false }, data: [{ yAxis: 0 }], lineStyle: { color: 'rgba(70,70,70,0.7)', width: 0.8, type: 'solid' } } };
  const raw = (xi: number, yi: number, data: number[][]) => ({
    type: 'bar', xAxisIndex: xi, yAxisIndex: yi, data: ts(data), barWidth: 1.3, itemStyle: { color: RAW_COLOR }, z: 1, silent: true, animation: false,
  });
  const wlTide = (xi: number, yi: number) => [
    line(N_TIDE, xi, yi, TIDAL_RANGE, TIDE_COLOR, 1.2, [1.5, 2], 6, { smooth: 0.5, smoothMonotone: 'x' }),
    line(N_WL, xi, yi, GODIN_WL, WL_COLOR, 1.1, 'solid', 6),
  ];

  const posPart = SAL_CHANGE.map(([d, v]) => [d, Math.max(v, 0)]);
  const negPart = SAL_CHANGE.map(([d, v]) => [d, Math.min(v, 0)]);

  const series: any[] = [
    raw(0, 0, SAL_RAW),
    line(N_WITHOUT, 0, 0, SAL_WITHOUT, BLUE, 3.6, 'solid', 3, zeroLine),
    line(N_WITH, 0, 0, SAL_WITH, RED, 2.6, [8, 4], 4),
    ...wlTide(0, 1),
    line(N_RAW, 0, 0, [], '#c4c4c4', 1, 'solid', 1),
    line(N_AVG, 0, 0, [], '#808080', 3, 'solid', 1),
    raw(1, 2, DENS_RAW),
    line(N_WITHOUT, 1, 2, DENS_WITHOUT, BLUE, 3.6, 'solid', 3, zeroLine),
    line(N_WITH, 1, 2, DENS_WITH, RED, 2.6, [8, 4], 4),
    ...wlTide(1, 3),
    line(N_POS, 2, 4, posPart, 'rgba(0,0,0,0)', 0, 'solid', 1, { areaStyle: { color: 'rgba(240,140,140,0.22)', origin: 0 } }),
    line(N_NEG, 2, 4, negPart, 'rgba(0,0,0,0)', 0, 'solid', 1, { areaStyle: { color: 'rgba(130,180,225,0.2)', origin: 0 } }),
    line(N_DSAL, 2, 4, SAL_CHANGE, PURPLE, 2.6, 'solid', 3, zeroLine),
    line(N_DDEN, 2, 4, DENS_CHANGE, GREEN, 2.6, [7, 3.5], 4),
    ...wlTide(2, 5),
  ];

  // Line-only legends: hide the symbol ECharts adds in line icons, and inherit each series' line width.
  const lineLegend = { itemStyle: { opacity: 0 }, lineStyle: { width: 'inherit' } };
  const legendBase = { orient: 'vertical', padding: 0, selectedMode: false, z: 100, zlevel: 0 };
  const bottomText = (pad: number) => ({ fontSize: 14, color: TXT, fontFamily: FONT, padding: [0, 0, 0, pad] });
  const legends = [
    { ...legendBase, ...lineLegend, data: [N_WITHOUT, N_WITH], left: 260, top: 855, itemWidth: 42, itemHeight: 14, itemGap: 7.6, textStyle: bottomText(7) },
    { ...legendBase, ...lineLegend, data: [N_RAW, N_AVG], left: 440, top: 855, itemWidth: 42, itemHeight: 14, itemGap: 7.6, textStyle: bottomText(5) },
    { ...legendBase, ...lineLegend, data: [N_WL, N_TIDE], left: 662, top: 855, itemWidth: 42, itemHeight: 14, itemGap: 7.6, textStyle: bottomText(8) },
    { ...legendBase, data: [
        { name: N_POS, icon: 'rect', itemStyle: { color: 'rgba(244,170,170,0.6)', opacity: 1 } },
        { name: N_NEG, icon: 'rect', itemStyle: { color: 'rgba(150,190,228,0.5)', opacity: 1 } },
      ], left: 116, top: 564.5, itemWidth: 24, itemHeight: 9, itemGap: 6.7, textStyle: { fontSize: 11.7, color: TXT, fontFamily: FONT, padding: [0, 0, 0, 4] } },
    { ...legendBase, ...lineLegend, data: [N_DSAL, N_DDEN], left: 370, top: 564.5, itemWidth: 24, itemHeight: 9, itemGap: 6.7, textStyle: { fontSize: 11.7, color: TXT, fontFamily: FONT, padding: [0, 0, 0, 5] } },
  ];

  return {
    animation: false,
    backgroundColor: '#ffffff',
    textStyle: { fontFamily: FONT },
    grid: grids,
    xAxis: [...xMajor, ...xMinor],
    yAxis: yAxes,
    legend: legends,
    graphic: [
      { type: 'rect', z: 90, silent: true, shape: { x: 251.5, y: 846.5, width: 765, height: 54, r: 3 }, style: { fill: '#ffffff', stroke: '#cccccc', lineWidth: 1 } },
      { type: 'rect', z: 90, silent: true, shape: { x: 111.5, y: 558.5, width: 542, height: 37, r: 3 }, style: { fill: 'rgba(255,255,255,0.85)', stroke: '#cccccc', lineWidth: 1 } },
    ],
    series,
  };
}

export default function App() {
  const ref = useRef<HTMLDivElement>(null);
  useEffect(() => {
    if (!ref.current) return;
    const chart = echarts.init(ref.current, undefined, { renderer: 'svg' });
    chart.setOption(buildOption() as any);
    return () => chart.dispose();
  }, []);
  return <div ref={ref} style={{ position: 'absolute', left: 0, top: 0, width: 1234, height: 902 }} />;
}
